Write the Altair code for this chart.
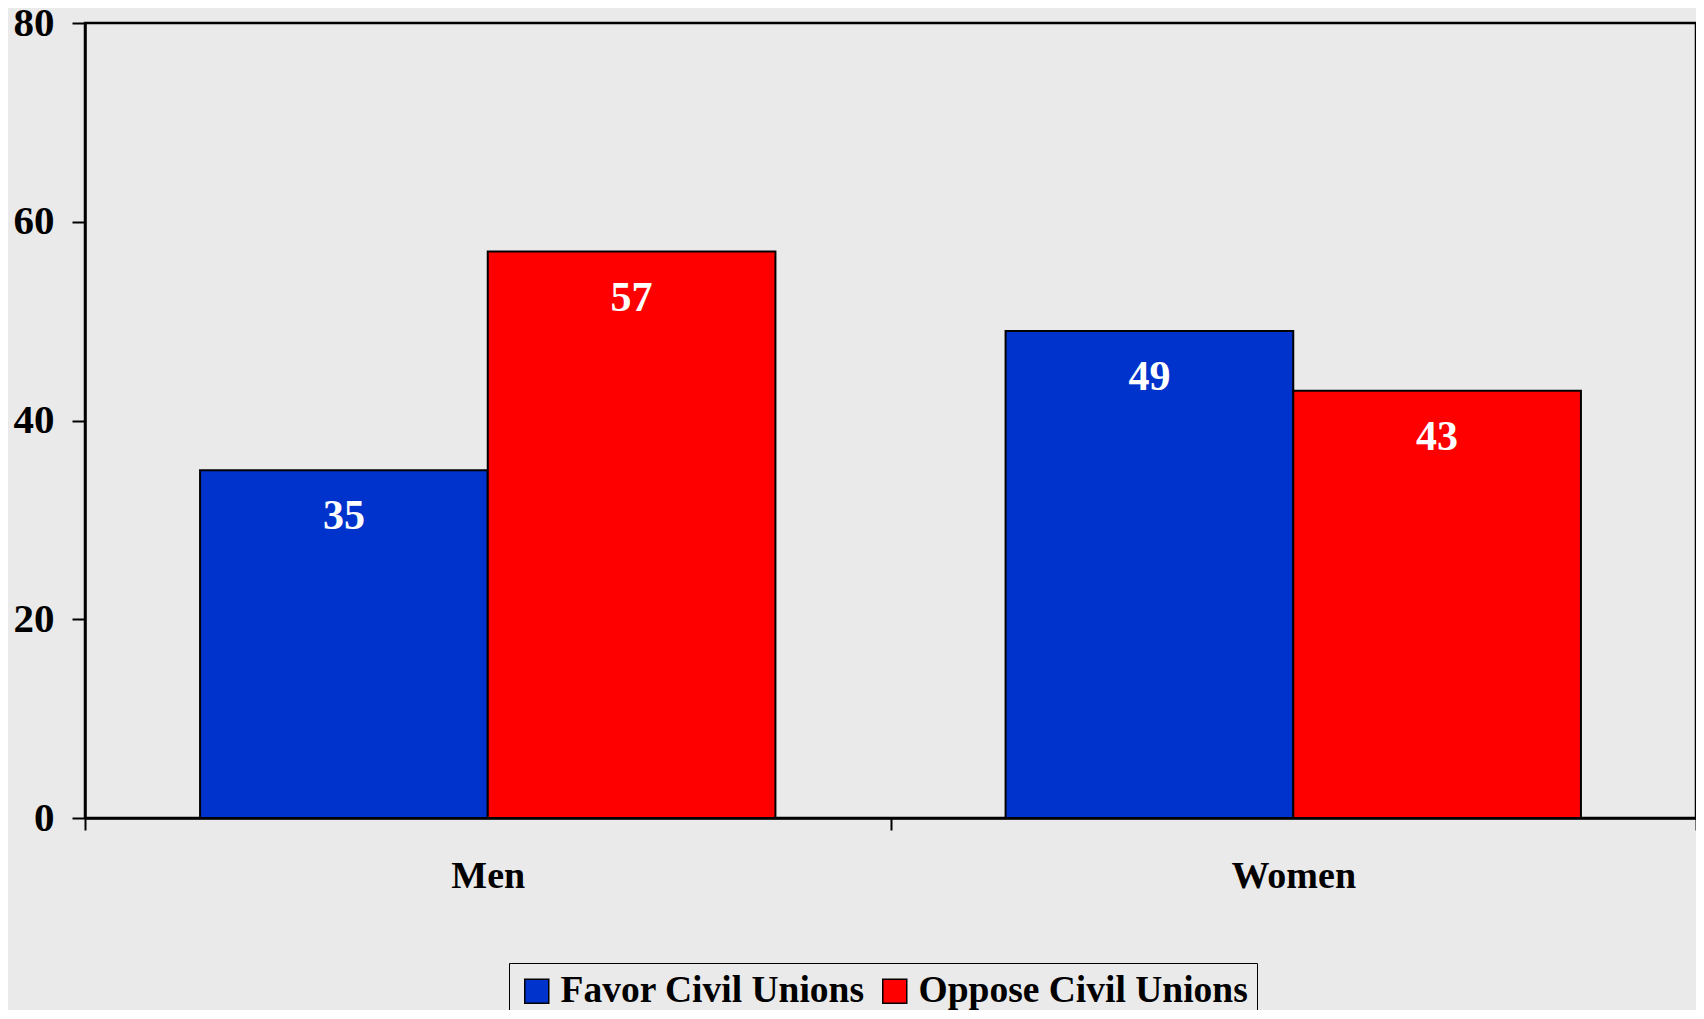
import altair as alt
import pandas as pd

groups = ["Men", "Women"]
series = ["Favor Civil Unions", "Oppose Civil Unions"]
favor = [35, 49]
oppose = [57, 43]
colors = ["#0033CC", "#FF0000"]
y_ticks = [0, 20, 40, 60, 80]

rows = []
for i, g in enumerate(groups):
    rows.append({"group": g, "series": series[0], "value": favor[i]})
    rows.append({"group": g, "series": series[1], "value": oppose[i]})
df = pd.DataFrame(rows)

FONT = "Liberation Serif"

x_enc = alt.X(
    "group:N",
    sort=groups,
    scale=alt.Scale(paddingInner=0, paddingOuter=0),
    axis=alt.Axis(
        title=None, labelAngle=0, tickBand="extent", ticks=True, tickSize=12,
        tickWidth=2, tickColor="black", labelFont=FONT, labelFontWeight="bold",
        labelFontSize=38, labelColor="black", labelPadding=27,
        domainColor="black", domainWidth=2.5,
    ),
)
xoff = alt.XOffset(
    "series:N", sort=series, scale=alt.Scale(paddingInner=0, paddingOuter=0.4)
)
y_enc = alt.Y(
    "value:Q",
    scale=alt.Scale(domain=[0, 80], nice=False),
    axis=alt.Axis(
        title=None, values=y_ticks, grid=False, tickSize=13, tickWidth=2,
        tickColor="black", labelFont=FONT, labelFontWeight="bold",
        labelFontSize=41, labelColor="black", labelPadding=18,
        domainColor="black", domainWidth=2.5,
    ),
)

bars = alt.Chart(df).mark_bar(stroke="black", strokeWidth=2).encode(
    x=x_enc,
    xOffset=xoff,
    y=y_enc,
    color=alt.Color(
        "series:N",
        sort=series,
        scale=alt.Scale(domain=series, range=colors),
        legend=alt.Legend(
            title=None, orient="none", legendX=424, legendY=940,
            direction="horizontal", strokeColor="black", fillColor="#EAEAEA",
            padding=9, symbolType="square", symbolSize=576,
            symbolStrokeColor="black", symbolStrokeWidth=1.5,
            labelFont=FONT, labelFontWeight="bold", labelFontSize=37.5,
            labelColor="black", labelOffset=5, columnPadding=11,
            labelLimit=600, symbolOpacity=1,
        ),
    ),
)

labels = alt.Chart(df).mark_text(
    font=FONT, fontWeight="bold", fontSize=42, color="white",
    baseline="middle", align="center", dy=46,
).encode(
    x=alt.X("group:N", sort=groups),
    xOffset=alt.XOffset("series:N", sort=series),
    y=alt.Y("value:Q"),
    text=alt.Text("value:Q"),
)

chart = (
    alt.layer(bars, labels)
    .properties(
        width=1611,
        height=795,
        background="#EAEAEA",
        autosize=alt.AutoSizeParams(type="none"),
        padding={"left": 77, "top": 15, "right": 0, "bottom": 192},
    )
    .configure_view(stroke="black", strokeWidth=2.5, fill="#EAEAEA")
)

chart.save("out.html", embed_options={"renderer": "svg", "actions": False})
